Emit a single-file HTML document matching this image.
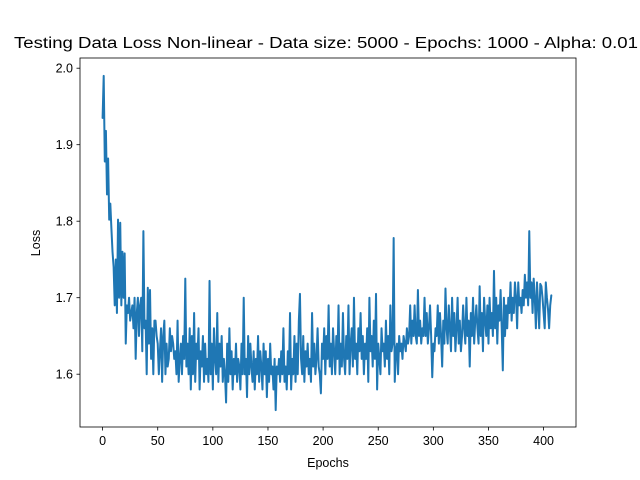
<!DOCTYPE html>
<html><head><meta charset="utf-8"><style>
body{margin:0;background:#fff;}
svg{display:block;font-family:"Liberation Sans","DejaVu Sans",sans-serif;}
</style></head><body>
<svg id="chart" width="640" height="480">
<text x="326" y="48" font-size="15.5" text-anchor="middle" textLength="624" lengthAdjust="spacingAndGlyphs" fill="#000">Testing Data Loss Non-linear - Data size: 5000 - Epochs: 1000 - Alpha: 0.01</text>
<rect x="80" y="58" width="496" height="369" fill="none" stroke="#000" stroke-width="0.8"/>
<g id="xticks"></g>
<g id="yticks"></g>
<text x="328" y="467" font-size="12.5" text-anchor="middle">Epochs</text>
<text transform="translate(40,243) rotate(-90)" font-size="12.5" text-anchor="middle">Loss</text>
<path id="line" fill="none" stroke="#1f77b4" stroke-width="2" stroke-linejoin="round" stroke-linecap="round"/>
</svg>
<script>
const xTicks=[0,50,100,150,200,250,300,350,400];
const yTicks=[1.6,1.7,1.8,1.9,2.0];
const yTickLabels=["1.6","1.7","1.8","1.9","2.0"];
const lossValues=[
1.935,1.990,1.878,1.918,1.835,1.882,1.802,1.823,1.790,1.760,1.740,1.690,1.750,1.680,1.802,1.700,1.798,1.690,1.760,1.700,
1.758,1.640,1.690,1.680,1.700,1.670,1.680,1.690,1.660,1.700,1.620,1.680,1.700,1.650,1.690,1.700,1.630,1.787,1.660,1.670,
1.600,1.713,1.640,1.710,1.620,1.660,1.600,1.670,1.670,1.650,1.640,1.600,1.630,1.660,1.590,1.650,1.670,1.600,1.640,1.610,
1.620,1.660,1.630,1.650,1.640,1.620,1.630,1.600,1.670,1.590,1.620,1.640,1.600,1.650,1.620,1.725,1.610,1.640,1.600,1.660,
1.580,1.650,1.600,1.680,1.590,1.640,1.620,1.660,1.580,1.630,1.610,1.650,1.590,1.640,1.600,1.620,1.590,1.722,1.600,1.640,
1.580,1.660,1.620,1.600,1.680,1.590,1.640,1.610,1.650,1.590,1.620,1.600,1.563,1.640,1.590,1.660,1.600,1.630,1.580,1.620,
1.600,1.640,1.590,1.620,1.610,1.580,1.640,1.600,1.700,1.600,1.620,1.570,1.650,1.600,1.640,1.610,1.590,1.630,1.580,1.620,
1.600,1.650,1.590,1.630,1.610,1.580,1.640,1.600,1.630,1.570,1.620,1.590,1.640,1.600,1.610,1.580,1.620,1.553,1.610,1.600,
1.620,1.590,1.630,1.600,1.660,1.590,1.610,1.580,1.630,1.600,1.680,1.580,1.620,1.600,1.650,1.590,1.640,1.600,1.670,1.705,
1.620,1.600,1.650,1.590,1.630,1.610,1.640,1.600,1.620,1.590,1.680,1.610,1.640,1.600,1.620,1.660,1.610,1.600,1.575,1.640,
1.620,1.660,1.600,1.650,1.620,1.690,1.610,1.640,1.600,1.660,1.630,1.600,1.650,1.620,1.690,1.600,1.640,1.610,1.680,1.620,
1.600,1.650,1.620,1.690,1.600,1.640,1.660,1.610,1.700,1.620,1.640,1.600,1.660,1.630,1.680,1.620,1.650,1.600,1.640,1.620,
1.660,1.590,1.700,1.630,1.650,1.610,1.670,1.620,1.705,1.580,1.640,1.620,1.600,1.660,1.630,1.640,1.610,1.670,1.620,1.650,
1.600,1.690,1.630,1.640,1.778,1.590,1.630,1.640,1.600,1.650,1.630,1.640,1.620,1.650,1.640,1.630,1.660,1.640,1.650,1.690,
1.640,1.670,1.650,1.690,1.650,1.640,1.710,1.650,1.670,1.640,1.660,1.650,1.700,1.650,1.680,1.640,1.660,1.690,1.650,1.596,
1.640,1.630,1.660,1.650,1.690,1.640,1.680,1.650,1.610,1.670,1.640,1.712,1.660,1.640,1.690,1.660,1.630,1.700,1.650,1.680,
1.630,1.660,1.700,1.640,1.670,1.630,1.650,1.690,1.660,1.640,1.700,1.650,1.670,1.610,1.680,1.650,1.700,1.640,1.670,1.690,
1.660,1.640,1.715,1.650,1.680,1.630,1.700,1.670,1.650,1.690,1.640,1.700,1.660,1.680,1.650,1.735,1.660,1.700,1.640,1.690,
1.670,1.710,1.660,1.605,1.700,1.650,1.690,1.660,1.700,1.680,1.720,1.670,1.700,1.680,1.720,1.700,1.660,1.720,1.690,1.700,
1.680,1.710,1.690,1.730,1.700,1.720,1.690,1.787,1.700,1.720,1.680,1.725,1.700,1.660,1.720,1.690,1.660,1.718,1.715,1.700,
1.680,1.660,1.720,1.700,1.685,1.660,1.690,1.703];
const NS="http://www.w3.org/2000/svg";
function xs(v){return 102.6+v*1.1025;}
function ys(v){return 374.2-(v-1.6)*765;}
const gx=document.getElementById('xticks'), gy=document.getElementById('yticks');
xTicks.forEach(t=>{
  const l=document.createElementNS(NS,'line');
  l.setAttribute('x1',xs(t));l.setAttribute('x2',xs(t));l.setAttribute('y1',427);l.setAttribute('y2',430.5);
  l.setAttribute('stroke','#000');l.setAttribute('stroke-width','0.8');
  
  
  gx.appendChild(l);
  const tx=document.createElementNS(NS,'text');
  tx.setAttribute('x',xs(t));tx.setAttribute('y',445);tx.setAttribute('font-size','12.5');tx.setAttribute('text-anchor','middle');
  tx.textContent=String(t);
  
  
  gx.appendChild(tx);
});
yTicks.forEach((t,i)=>{
  const l=document.createElementNS(NS,'line');
  l.setAttribute('x1',76.5);l.setAttribute('x2',80);l.setAttribute('y1',ys(t));l.setAttribute('y2',ys(t));
  l.setAttribute('stroke','#000');l.setAttribute('stroke-width','0.8');
  
  
  gy.appendChild(l);
  const tx=document.createElementNS(NS,'text');
  tx.setAttribute('x',73);tx.setAttribute('y',ys(t)+4.5);tx.setAttribute('font-size','12.5');tx.setAttribute('text-anchor','end');
  tx.textContent=yTickLabels[i];
  
  
  gy.appendChild(tx);
});
document.getElementById('line').setAttribute('d',lossValues.map((v,i)=>(i?'L':'M')+xs(i).toFixed(2)+' '+ys(v).toFixed(2)).join(''));
</script>
</body></html>
